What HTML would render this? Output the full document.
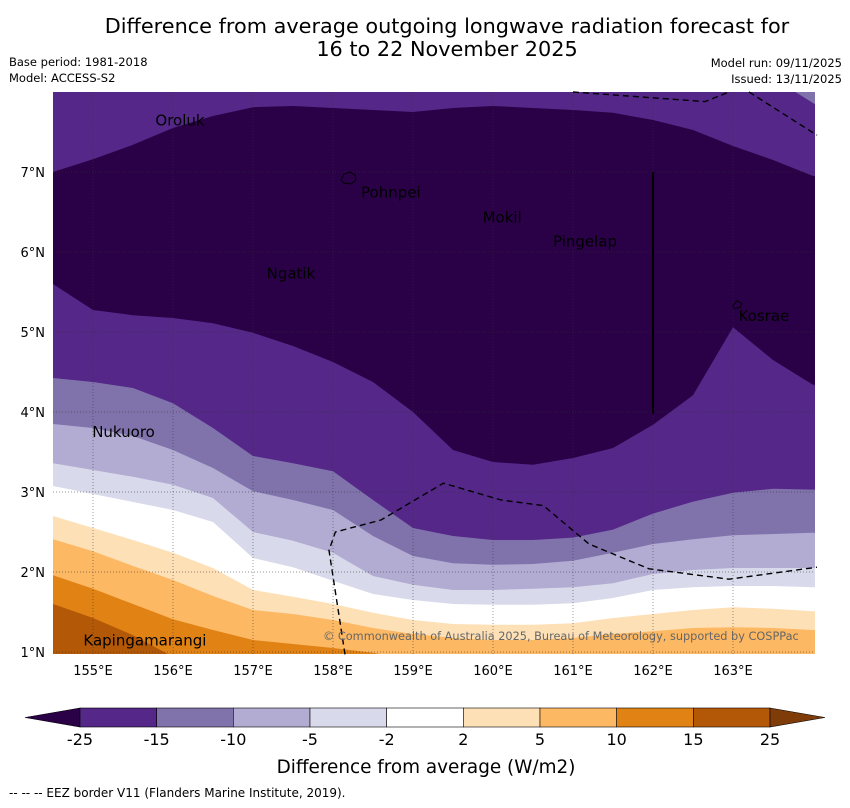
<!DOCTYPE html>
<html><head><meta charset="utf-8"><style>
body{margin:0;background:#fff;width:850px;height:804px;overflow:hidden;font-family:"DejaVu Sans","Liberation Sans",sans-serif}
svg text{font-family:"DejaVu Sans","Liberation Sans",sans-serif}
</style></head><body>
<svg id="chart" width="850" height="804" xmlns="http://www.w3.org/2000/svg">
<text x="447" y="33" font-size="20.8" text-anchor="middle">Difference from average outgoing longwave radiation forecast for</text>
<text x="447" y="56" font-size="20.8" text-anchor="middle">16 to 22 November 2025</text>
<text x="9" y="66" font-size="11.5">Base period: 1981-2018</text>
<text x="9" y="82" font-size="11.5">Model: ACCESS-S2</text>
<text x="842" y="67" font-size="11.5" text-anchor="end">Model run: 09/11/2025</text>
<text x="842" y="83" font-size="11.5" text-anchor="end">Issued: 13/11/2025</text>
<defs><clipPath id="mapclip"><rect x="53" y="92" width="762" height="562"/></clipPath></defs>
<g id="map" clip-path="url(#mapclip)"></g>
<g id="overlay"></g>
<g id="axes"></g>
<g id="cbar"></g>
<text x="426" y="773" font-size="18.4" text-anchor="middle">Difference from average (W/m2)</text>
<text x="9" y="797" font-size="12">-- -- -- EEZ border V11 (Flanders Marine Institute, 2019).</text>
</svg>
<script>
const lonGrid=[154.5,155,155.5,156,156.5,157,157.5,158,158.5,159,159.5,160,160.5,161,161.5,162,162.5,163,163.5,164];
const coreTop=[7.0,7.16,7.34,7.55,7.7,7.81,7.825,7.8,7.775,7.75,7.8,7.825,7.8,7.775,7.74,7.65,7.525,7.325,7.15,6.95];
const coreBottom=[5.6,5.275,5.21,5.175,5.11,4.99,4.825,4.625,4.375,4.0,3.525,3.375,3.34,3.425,3.55,3.84,4.21,5.06,4.65,4.34];
const bndM15=[4.425,4.375,4.3,4.11,3.8,3.45,3.36,3.26,2.9,2.55,2.45,2.4,2.4,2.43,2.53,2.73,2.88,2.99,3.04,3.03];
const bndM10=[3.85,3.8,3.7,3.525,3.3,3.01,2.9,2.775,2.45,2.2,2.11,2.09,2.1,2.14,2.24,2.35,2.41,2.46,2.475,2.49];
const bndM5=[3.36,3.275,3.19,3.09,2.925,2.5,2.39,2.24,1.95,1.84,1.775,1.775,1.79,1.81,1.86,1.975,2.025,2.05,2.05,2.05];
const bndM2=[3.075,2.975,2.875,2.775,2.625,2.175,2.06,1.89,1.725,1.65,1.6,1.59,1.59,1.61,1.675,1.775,1.81,1.825,1.825,1.81];
const bndP2=[2.7,2.55,2.4,2.24,2.05,1.775,1.69,1.6,1.49,1.4,1.35,1.34,1.34,1.36,1.425,1.475,1.525,1.56,1.54,1.51];
const bndP5=[2.41,2.26,2.075,1.9,1.7,1.525,1.475,1.4,1.3,1.225,1.175,1.15,1.15,1.175,1.225,1.26,1.3,1.31,1.3,1.275];
const bndP10=[1.96,1.79,1.6,1.41,1.275,1.15,1.1,1.05,0.99,0.9,0.8,0.8,0.8,0.8,0.8,0.8,0.8,0.8,0.8,0.8];
const bndP15=[1.6,1.425,1.21,0.94,0.8,0.8,0.8,0.8,0.8,0.8,0.8,0.8,0.8,0.8,0.8,0.8,0.8,0.8,0.8,0.8];
const levelLabels=['-25','-15','-10','-5','-2','2','5','10','15','25'];
const bandColors=['#542788','#8073ac','#b2abd2','#d8daeb','#ffffff','#fee0b6','#fdb863','#e08214','#b35806'];
const lonTicks=[155,156,157,158,159,160,161,162,163];
const latTicks=[1,2,3,4,5,6,7];
const islands=[['Oroluk',155.78,7.58],['Pohnpei',158.35,6.68],['Mokil',159.87,6.37],['Pingelap',160.75,6.07],['Ngatik',157.17,5.67],['Kosrae',163.07,5.14],['Nukuoro',154.99,3.69],['Kapingamarangi',154.88,1.08]];
const eezA=[[161.0,8.0],[162.65,7.88],[162.95,8.0]];
const eezB=[[163.2,8.0],[164.05,7.46]];
const eezC=[[158.15,0.97],[157.95,2.27],[158.03,2.5],[158.6,2.65],[159.38,3.11],[160.1,2.9],[160.63,2.83],[161.2,2.35],[161.95,2.04],[162.95,1.91],[164.05,2.06]];
const cdarkest='#2a0047';
const X=lon=>53+(lon-154.5)*80, Y=lat=>92+(8-lat)*80;
const NS='http://www.w3.org/2000/svg';
function mk(tag,attrs,parent){const e=document.createElementNS(NS,tag);for(const k in attrs)e.setAttribute(k,attrs[k]);parent.appendChild(e);return e;}
const map=document.getElementById('map');
const bg=mk('rect',{x:53,y:92,width:762,height:562,fill:bandColors[0]},map);


const tr=mk('path',{d:`M${X(163.7)},${Y(8.05)} L${X(164.1)},${Y(8.05)} L${X(164.1)},${Y(7.8)} Z`,fill:bandColors[1]},map);


function line(arr){return arr.map((v,i)=>`${i?'L':'M'}${X(lonGrid[i]).toFixed(1)},${Y(v).toFixed(1)}`).join(' ');}
let d=line(coreTop)+` L${X(164.1)},${Y(coreTop[coreTop.length-1])} L${X(164.1)},${Y(coreBottom[coreBottom.length-1])} `;
for(let i=coreBottom.length-1;i>=0;i--)d+=`L${X(lonGrid[i]).toFixed(1)},${Y(coreBottom[i]).toFixed(1)} `;
d+=`L${X(154.4)},${Y(coreBottom[0])} L${X(154.4)},${Y(coreTop[0])} Z`;
const core=mk('path',{d:d,fill:cdarkest},map);


const bnds=[bndM15,bndM10,bndM5,bndM2,bndP2,bndP5,bndP10,bndP15];
bnds.forEach((b,k)=>{
 const dd=`M${X(154.4)},${Y(b[0])} `+line(b).replace(/^M/,'L')+` L${X(164.1)},${Y(b[b.length-1])} L${X(164.1)},700 L${X(154.4)},700 Z`;
 const p=mk('path',{d:dd,fill:bandColors[k+1]},map);
 
 
});
const ov=document.getElementById('overlay');
lonTicks.forEach(l=>{const g=mk('line',{x1:X(l),x2:X(l),y1:92,y2:654,stroke:'#333',"stroke-width":0.7,"stroke-dasharray":'1,2',opacity:0.7},ov);});
latTicks.forEach(l=>{const g=mk('line',{x1:53,x2:815,y1:Y(l),y2:Y(l),stroke:'#333',"stroke-width":0.7,"stroke-dasharray":'1,2',opacity:0.7},ov);});
[eezA,eezB,eezC].forEach(a=>{const p=mk('path',{d:a.map((q,i)=>`${i?'L':'M'}${X(q[0])},${Y(q[1])}`).join(' '),fill:'none',stroke:'#000',"stroke-width":1.4,"stroke-dasharray":'6,4'},ov);});
const vl=mk('line',{x1:X(162),x2:X(162),y1:Y(7),y2:Y(3.98),stroke:'#000',"stroke-width":2},ov);


const pp=mk('path',{d:`M${X(158.1)},${Y(6.9)} l3,-6 l6,-2 l5,3 l1,5 l-5,4 l-7,-1 z M${X(163.0)},${Y(5.33)} l4,-5 l5,3 l-2,4 l-6,1 z`,fill:'none',stroke:'#000',"stroke-width":1},ov);


islands.forEach(s=>{const t=mk('text',{x:X(s[1]),y:Y(s[2]),"font-size":15,fill:'#000'},ov);t.textContent=s[0];});
const cp=mk('text',{x:323,y:640,"font-size":11.3,fill:'#666'},ov);cp.textContent='© Commonwealth of Australia 2025, Bureau of Meteorology, supported by COSPPac';


const ax=document.getElementById('axes');
lonTicks.forEach(l=>{const t=mk('text',{x:X(l),y:675,"font-size":13,"text-anchor":'middle'},ax);t.textContent=l+'°E';});
latTicks.forEach(l=>{const t=mk('text',{x:45,y:Y(l)+5,"font-size":13,"text-anchor":'end'},ax);t.textContent=l+'°N';});
const cb=document.getElementById('cbar');
const cx0=80,cw=690/9,cy=708,ch=19;
const lt=mk('path',{d:`M${cx0},${cy} L25,${cy+ch/2} L${cx0},${cy+ch} Z`,fill:cdarkest,stroke:'#000',"stroke-width":0.6},cb);


bandColors.forEach((c,i)=>{const r=mk('rect',{x:cx0+i*cw,y:cy,width:cw,height:ch,fill:c,stroke:'#000',"stroke-width":0.6},cb);});
const rt=mk('path',{d:`M${cx0+690},${cy} L825,${cy+ch/2} L${cx0+690},${cy+ch} Z`,fill:'#7f3b08',stroke:'#000',"stroke-width":0.6},cb);


levelLabels.forEach((s,i)=>{const t=mk('text',{x:cx0+i*cw,y:745,"font-size":16,"text-anchor":'middle'},cb);t.textContent=s;});
</script>
</body></html>
